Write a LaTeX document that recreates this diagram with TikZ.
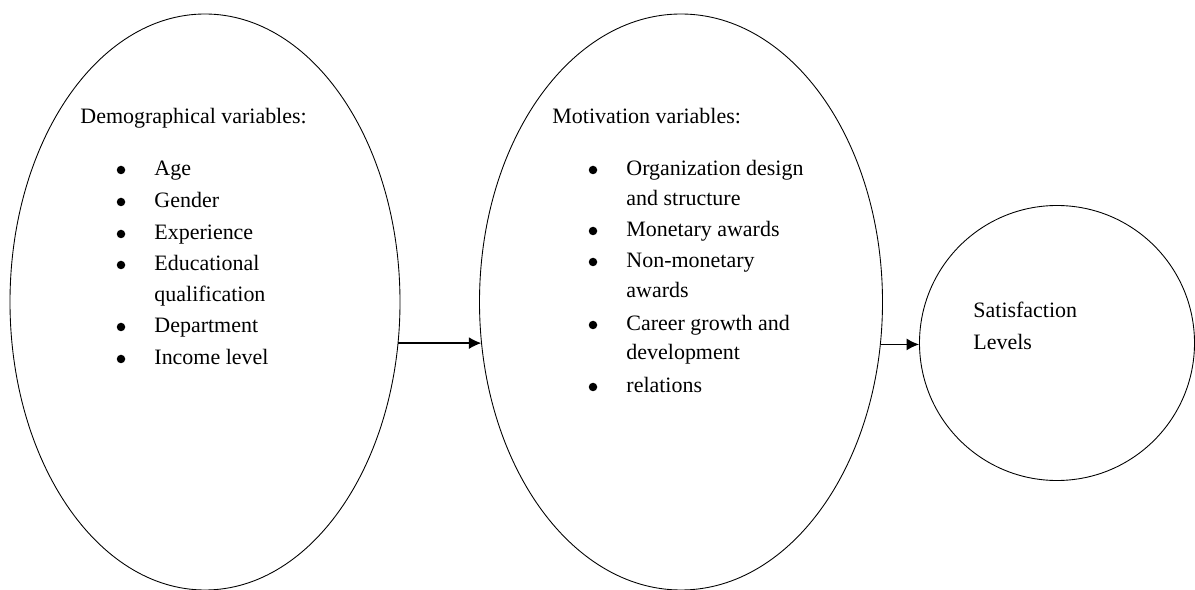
\documentclass[tikz,border=0pt]{standalone}
\usepackage{fontspec}
\setmainfont{Liberation Serif}
\usetikzlibrary{shapes.geometric,arrows.meta}

\tikzset{
  txt/.style={anchor=base west,inner sep=0pt},
  blt/.style={circle,fill,inner sep=0pt,minimum size=1.7mm},
  arr/.style={-{Latex[length=2.5mm,width=2.4mm]},line width=0.7pt}
}

\begin{document}
\begin{tikzpicture}[x=0.2mm,y=-0.2mm,font=\fontsize{12.5}{15}\selectfont,line width=0.5pt]
      \useasboundingbox (0,0) rectangle (1195,590);

      \node[draw,ellipse,minimum width=78mm,minimum height=115.2mm] (demo) at (205,302) {};
      \node[draw,ellipse,minimum width=80.6mm,minimum height=115.2mm] (motiv) at (681,302) {};
      \node[draw,circle,minimum size=55mm] (satis) at (1057,343) {};

      % demographical block
      \node[txt] (demotitle) at (80,124) {Demographical variables:};
      \foreach \y/\str in {176/Age,
                           208/Gender,
                           240/Experience,
                           271/Educational,
                           302/qualification,
                           333/Department,
                           365/Income level}
      {\node[txt] (dtxt\y) at (154,\y) {\str};
      };
      \foreach \y in {176,208,240,271,333,365}
      {\node[blt] (dbul\y) at (121,\y-6) {};
      };

      % motivation block
      \node[txt] (motivtitle) at (552,124) {Motivation variables:};
      \foreach \y/\str in {176/Organization design,
                           206/and structure,
                           237/Monetary awards,
                           268/Non-monetary,
                           298/awards,
                           331/Career growth and,
                           360/development,
                           393/relations}
      {\node[txt] (mtxt\y) at (626,\y) {\str};
      };
      \foreach \y in {176,237,268,331,393}
      {\node[blt] (mbul\y) at (593,\y-6) {};
      };

      % satisfaction
      \node[txt] (sat1) at (973,318) {Satisfaction};
      \node[txt] (sat2) at (973,350) {Levels};

      \draw[arr] (demo.-12) -- (motiv.192 |- demo.-12);
      \draw[arr] (motiv.-12) -- (satis.west |- motiv.-12);
    \end{tikzpicture}
\end{document}
